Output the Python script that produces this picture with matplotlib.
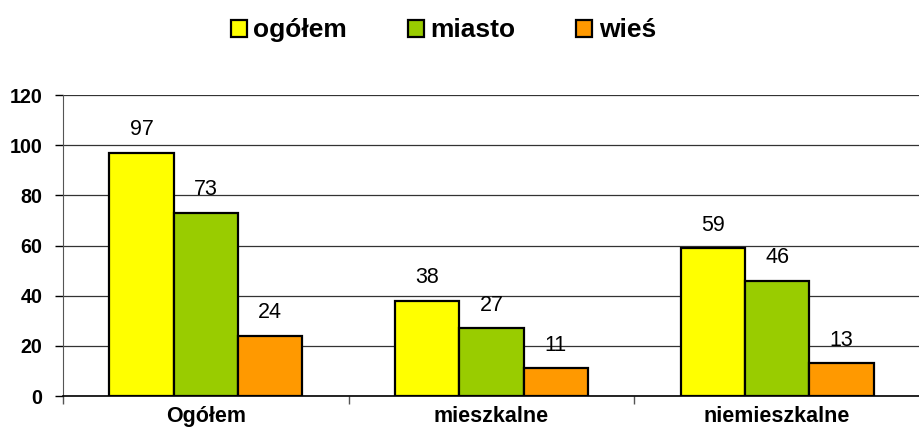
import numpy as np
import matplotlib.pyplot as plt
from matplotlib.patches import Patch

plt.rcParams['font.family'] = ['Liberation Sans', 'DejaVu Sans']

categories = ['Ogółem', 'mieszkalne', 'niemieszkalne']
series = ['ogółem', 'miasto', 'wieś']
ogolem = [97, 38, 59]
miasto = [73, 27, 46]
wies = [24, 11, 13]
colors = ['#FFFF00', '#99CC00', '#FF9900']

fig = plt.figure(figsize=(9.2, 4.32), dpi=100)
ax = fig.add_axes([0.0685, 0.0833, 0.9315, 0.6967])

x = np.arange(len(categories))
width = 0.225
for i, (vals, col) in enumerate(zip([ogolem, miasto, wies], colors)):
    pos = x + (i - 1) * width
    ax.bar(pos, vals, width, color=col, edgecolor='black', linewidth=1.6,
           zorder=3)
    for p, v in zip(pos, vals):
        ax.annotate(str(v), (p, v), xytext=(0, 9), textcoords='offset points',
                    ha='center', va='bottom', fontsize=15.5)

ax.set_xlim(-0.5, 2.5)
ax.set_ylim(0, 120)
ax.set_yticks(np.arange(0, 121, 20))
ax.yaxis.grid(True, color='#333333', linewidth=0.9, zorder=0)
ax.set_axisbelow(True)
ax.tick_params(axis='y', labelsize=14.2, length=6, width=1, color='black',
               pad=9)
for lab in ax.get_yticklabels():
    lab.set_fontweight('bold')

# category labels centered, ticks on the boundaries
ax.set_xticks([-0.5, 0.5, 1.5])
ax.set_xticklabels([])
ax.set_xticks(x, minor=True)
ax.set_xticklabels(categories, minor=True, fontsize=15.5, fontweight='bold')
ax.tick_params(axis='x', which='minor', length=0, pad=7)
ax.tick_params(axis='x', which='major', length=6, width=1, color='#555555')

for s in ['top', 'right']:
    ax.spines[s].set_visible(False)
ax.spines['left'].set_color('#555555')
ax.spines['bottom'].set_color('black')
ax.spines['bottom'].set_linewidth(1.2)

handles = [Patch(facecolor=c, edgecolor='black', linewidth=1.6) for c in colors]
leg = fig.legend(handles, series, loc='upper center', bbox_to_anchor=(0.482, 1.0),
                 ncol=3, frameon=False, prop={'weight': 'bold', 'size': 19},
                 handlelength=0.6, handleheight=0.6, handletextpad=0.25,
                 columnspacing=2.3, borderaxespad=0.3)

fig.savefig('out.png', dpi=100)
